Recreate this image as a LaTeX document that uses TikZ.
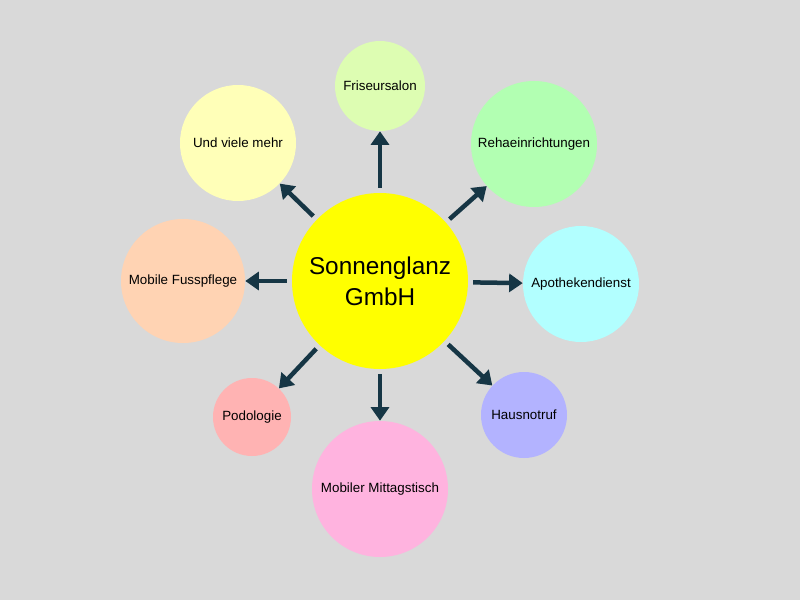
\documentclass[tikz,border=0pt]{standalone}
\usepackage{fontspec}
\setmainfont{Liberation Sans}
\usepackage{xcolor}
\usepackage{tikz}
\usetikzlibrary{arrows.meta, backgrounds}

\definecolor{bggray}{HTML}{D9D9D9}
\definecolor{arrowteal}{HTML}{163645}
\definecolor{sunyellow}{HTML}{FFFF00}
\definecolor{friseurgreen}{HTML}{DDFDB2}
\definecolor{rehagreen}{HTML}{B2FFB2}
\definecolor{apocyan}{HTML}{B2FFFF}
\definecolor{notrufblue}{HTML}{B3B3FF}
\definecolor{mittagpink}{HTML}{FFB3DF}
\definecolor{podored}{HTML}{FFB3B3}
\definecolor{fusspeach}{HTML}{FFD3B3}
\definecolor{mehryellow}{HTML}{FFFFB8}

\begin{document}
\begin{tikzpicture}[
    hub/.style={circle, fill=sunyellow, minimum size=4.4cm, inner sep=0pt, align=center, font=\fontsize{17.3}{22}\selectfont},
    service/.style={circle, inner sep=0pt, align=center, font=\fontsize{9.5}{11}\selectfont},
    arrow/.style={-{Triangle[width=0.45cm, length=0.34cm]}, line width=3.2pt, draw=arrowteal, shorten <=0.12cm}
]
\fill[bggray] (0,0) rectangle (20,15);

\node[hub] (hub) at (9.5,7.975) {Sonnenglanz\\GmbH};

\node[service, fill=friseurgreen, minimum size=2.25cm] (friseur) at (9.5,12.85) {Friseursalon};
\node[service, fill=rehagreen, minimum size=3.15cm] (reha) at (13.35,11.4) {Rehaeinrichtungen};
\node[service, fill=apocyan, minimum size=2.9cm] (apotheke) at (14.525,7.9) {Apothekendienst};
\node[service, fill=notrufblue, minimum size=2.15cm] (notruf) at (13.1,4.625) {Hausnotruf};
\node[service, fill=mittagpink, minimum size=3.4cm] (mittag) at (9.5,2.775) {Mobiler Mittagstisch};
\node[service, fill=podored, minimum size=1.95cm] (podo) at (6.3,4.575) {Podologie};
\node[service, fill=fusspeach, minimum size=3.1cm] (fuss) at (4.575,7.975) {Mobile Fusspflege};
\node[service, fill=mehryellow, minimum size=2.9cm] (mehr) at (5.95,11.425) {Und viele mehr};

\draw[arrow] (hub) -- (friseur);
\draw[arrow] (hub) -- (reha);
\draw[arrow] (hub) -- (apotheke);
\draw[arrow] (hub) -- (notruf);
\draw[arrow] (hub) -- (mittag);
\draw[arrow] (hub) -- (podo);
\draw[arrow] (hub) -- (fuss);
\draw[arrow] (hub) -- (mehr);
\end{tikzpicture}
\end{document}
